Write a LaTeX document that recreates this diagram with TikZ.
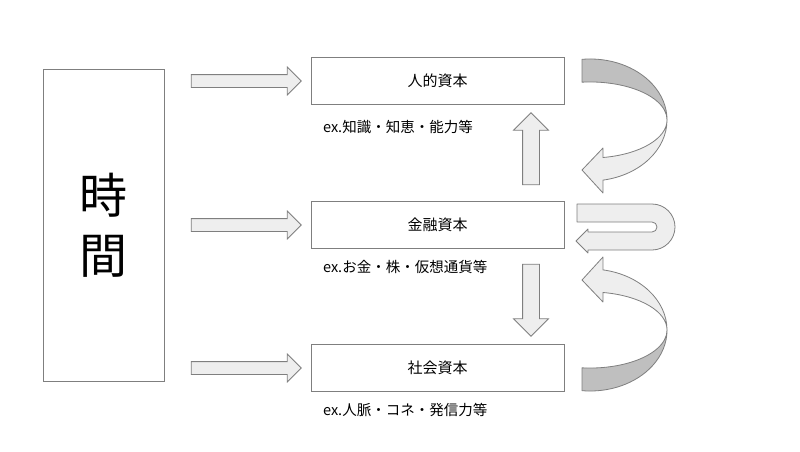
\documentclass[tikz,border=0pt]{standalone}
\usepackage{fontspec}
\setmainfont{Noto Sans CJK JP}
\usetikzlibrary{shapes.arrows}
\definecolor{edgegray}{HTML}{7F7F7F}
\definecolor{lightfill}{HTML}{EEEEEE}
\definecolor{darkfill}{HTML}{BFBFBF}
\begin{document}
\begin{tikzpicture}[x=1pt, y=1pt,
  timebox/.style={rectangle, draw=edgegray, line width=0.8pt, minimum width=121pt,
                  minimum height=312pt, align=center, font=\fontsize{48}{60}\selectfont},
  capital/.style={rectangle, draw=edgegray, line width=0.8pt, minimum width=253pt,
                  minimum height=47pt, font=\fontsize{15}{18}\selectfont},
  note/.style={anchor=west, inner sep=0pt, font=\fontsize{14.5}{17}\selectfont},
  flow/.style={single arrow, draw=edgegray, fill=lightfill, line width=0.8pt,
               inner xsep=0pt, inner ysep=6pt, single arrow head extend=7.5pt,
               single arrow tip angle=90, single arrow head indent=0pt, minimum height=110pt},
  bigflow/.style={flow, inner ysep=8pt, single arrow head extend=9pt, minimum height=72pt},
  turn/.style={draw=edgegray, fill=lightfill, line width=0.8pt, line join=round},
  back/.style={turn, fill=darkfill},
]
\useasboundingbox (0,0) rectangle (800,451);
\node[timebox] (jikan) at (103.5,226) {時\\間};
\node[capital] (jinteki) at (437.5,370) {人的資本};
\node[capital] (kinyu)   at (437.5,226) {金融資本};
\node[capital] (shakai)  at (437.5,83)  {社会資本};
\node[note] (n1) at (323,324) {ex.知識・知恵・能力等};
\node[note] (n2) at (323,184) {ex.お金・株・仮想通貨等};
\node[note] (n3) at (323,41)  {ex.人脈・コネ・発信力等};
\node[flow] (f1) at (243,370) {}; \node[flow] (f2) at (243,226) {}; \node[flow] (f3) at (243,83) {};
\node[bigflow, rotate=90]  (up)   at (531,298) {};
\node[bigflow, rotate=-90] (down) at (531,155) {};
% top ribbon arrow
\draw[back] (582,391.7) arc[start angle=96, end angle=0, x radius=77, y radius=61]
  arc[start angle=0, end angle=96, x radius=77, y radius=38] -- cycle;
\draw[turn] (667,331) arc[start angle=0, end angle=-80.3, x radius=77, y radius=61]
  -- (603,258) -- (582,281) -- (603,303) -- (603,293.5)
  arc[start angle=-80.3, end angle=0, x radius=77, y radius=38] -- cycle;
% u-turn arrow
\draw[turn] (577,247) -- (652,247) arc[start angle=90, end angle=-90, radius=23]
  -- (588,201) -- (588,198) -- (576,210) -- (588,222) -- (588,219) -- (652,219)
  arc[start angle=-90, end angle=90, radius=5] -- (577,229) -- cycle;
% bottom ribbon arrow
\draw[back] (582,60.3) arc[start angle=-96, end angle=0, x radius=77, y radius=61]
  arc[start angle=0, end angle=-96, x radius=77, y radius=38] -- cycle;
\draw[turn] (667,121) arc[start angle=0, end angle=80.3, x radius=77, y radius=61]
  -- (603,194) -- (582,171) -- (603,149) -- (603,158.5)
  arc[start angle=80.3, end angle=0, x radius=77, y radius=38] -- cycle;
\end{tikzpicture}
\end{document}
